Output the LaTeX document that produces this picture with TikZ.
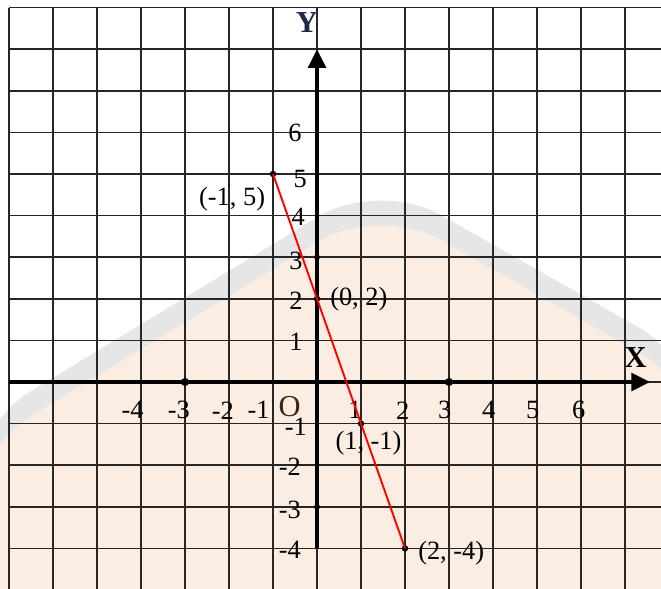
\documentclass[tikz,border=0pt]{standalone}
\usepackage{fontspec}
\setmainfont{Liberation Serif}
\usetikzlibrary{arrows.meta,positioning}

\definecolor{peach}{RGB}{252,237,226}
\definecolor{markgrey}{RGB}{230,230,230}
\definecolor{navy}{RGB}{30,40,75}

\begin{document}
\begin{tikzpicture}[
    x=1.32cm, y=1.248cm,
    gridline/.style={line width=1.4pt, black!85},
    axis/.style={line width=3.4pt, -{Triangle[length=16pt, width=15pt]}},
    graph/.style={red, line width=1.6pt},
    point/.style={circle, fill=black, inner sep=0pt, minimum size=5.5pt},
    tickdot/.style={circle, fill=black, inner sep=0pt, minimum size=7pt},
    num/.style={font=\fontsize{22.5}{24}\selectfont, inner sep=1pt},
    axislabel/.style={font=\fontsize{26}{28}\selectfont\bfseries, inner sep=0pt}
]
\useasboundingbox (-7.205,-4.952) rectangle (7.818,9.183);

% Background and watermark
\fill[white] (-7.205,-4.952) rectangle (7.818,9.183);
\begin{scope}
\clip (-7.205,-4.952) rectangle (7.818,9.183);
\fill[markgrey, rounded corners=60pt] (-7.89,-1.11) -- (1.41,4.86) -- (8.7,0.48) -- (8.7,-6) -- (-7.89,-6) -- cycle;
\fill[peach, rounded corners=60pt] (-7.89,-1.71) -- (1.41,4.26) -- (8.7,-0.12) -- (8.7,-6) -- (-7.89,-6) -- cycle;

% Grid
\foreach \y in {-5,...,9} \draw[gridline] (-7,\y) -- (8,\y);
\foreach \x in {-7,...,7} \draw[gridline] (\x,9) -- (\x,-5.2);
\end{scope}

% Axes
\coordinate (xstart) at (-7,0);
\coordinate (xend) at (7.57,0);
\coordinate (ystart) at (0,-4);
\coordinate (yend) at (0,8);
\draw[axis] (xstart) -- (xend);
\draw[axis] (ystart) -- (yend);
\node[axislabel] (xlab) at (7.24,0.58) {X};
\node[axislabel, text=navy] (ylab) at (-0.23,8.65) {Y};
\node[axislabel, font=\fontsize{26}{28}\selectfont, text=black!70!brown] (origin) at (-0.62,-0.6) {O};

% Tick dots
\node[tickdot] (tx1) at (-3,0) {};
\node[tickdot] (tx2) at (3,0) {};
\node[tickdot, minimum size=5pt] (ty1) at (0,3) {};
\node[tickdot, minimum size=5pt] (ty2) at (0,-3) {};

% Scale numbers
\foreach \x/\lx in {-4/-4.19, -3/-3.14, -2/-2.14, -1/-1.33, 1/0.86, 2/1.95, 3/2.9, 4/3.9, 5/4.9, 6/5.95}
    \node[num] (nx\x) at (\lx,-0.68) {\x};
\foreach \y/\lx/\ly in {6/-0.5/6.0, 5/-0.38/4.88, 4/-0.43/3.96, 3/-0.48/2.92, 2/-0.48/1.96, 1/-0.48/0.96, -1/-0.48/-1.08, -2/-0.62/-2.04, -3/-0.62/-3.08, -4/-0.62/-4.04}
    \node[num] (ny\y) at (\lx,\ly) {\y};

% Points of the line
\node[point] (pA) at (-1,5) {};
\node[point] (pB) at (0,2) {};
\node[point] (pC) at (1,-1) {};
\node[point] (pD) at (2,-4) {};
\node[num] (lA) at (-1.93,4.4) {(-1, 5)};
\node[num] (lB) at (0.95,2.0) {(0, 2)};
\node[num] (lC) at (1.17,-1.48) {(1, -1)};
\node[num] (lD) at (3.05,-4.12) {(2, -4)};

% Graph
\draw[graph] (pA.center) -- (pD.center);

\end{tikzpicture}
\end{document}
